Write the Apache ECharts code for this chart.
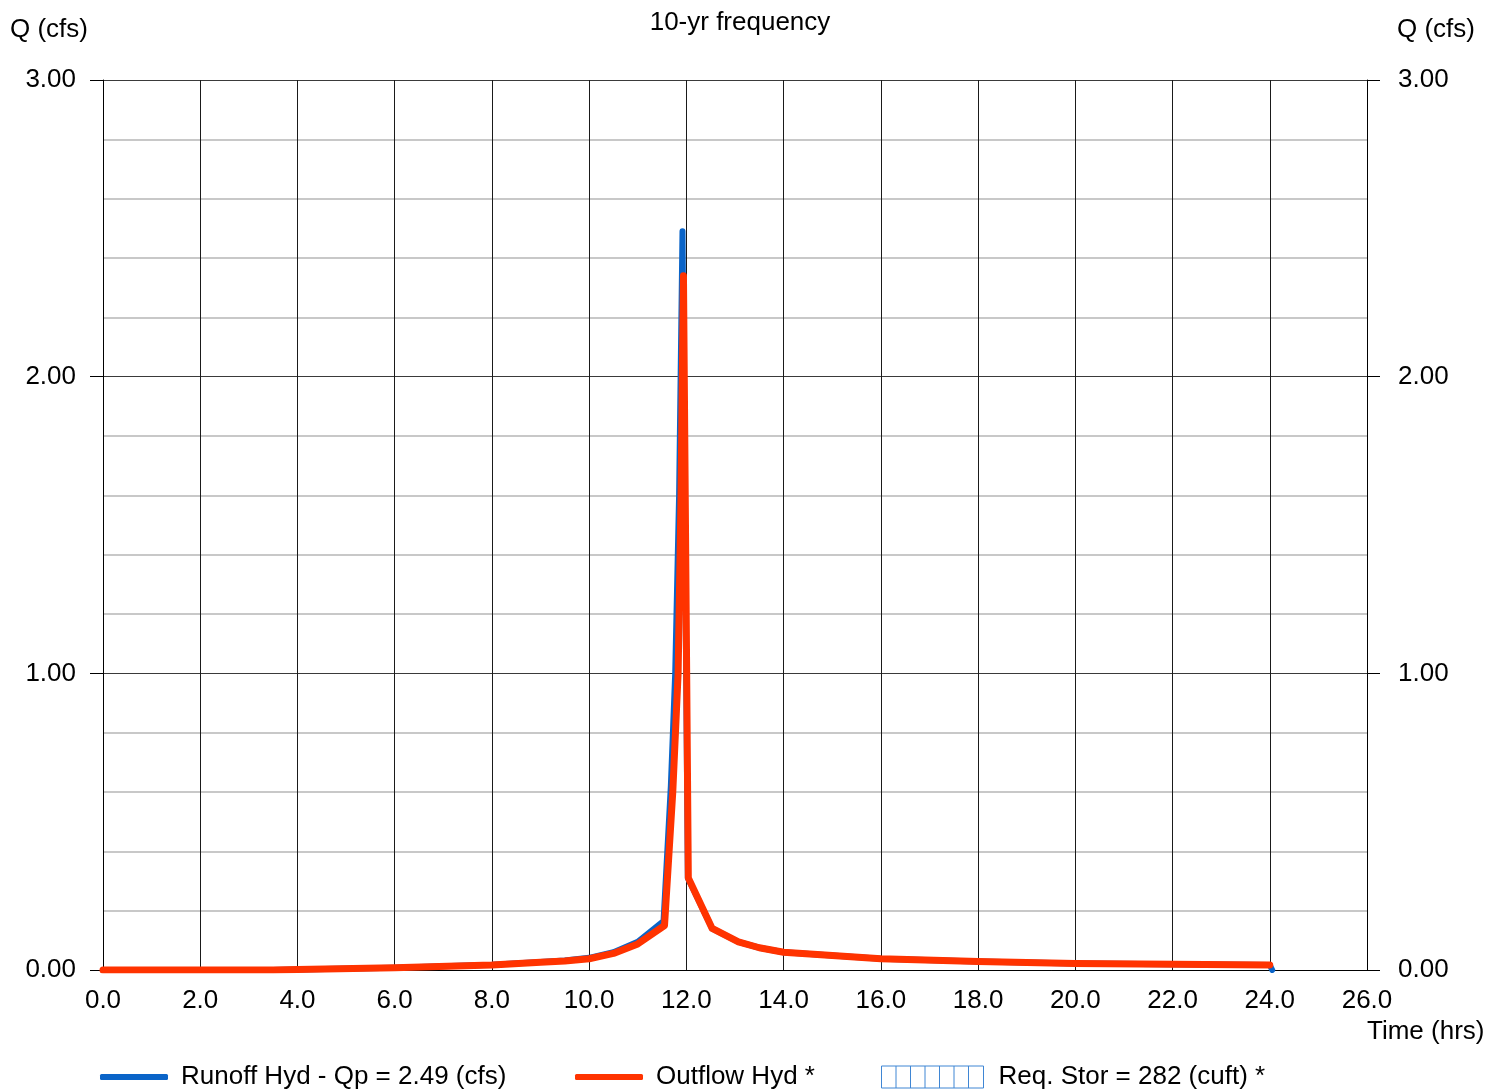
<!DOCTYPE html>
<html>
<head>
<meta charset="utf-8">
<script src="https://cdn.jsdelivr.net/npm/echarts@6/dist/echarts.min.js"></script>
<style>
  html, body { margin: 0; padding: 0; background: #fff; }
  #chart { width: 1504px; height: 1091px; }
</style>
</head>
<body>
<div id="chart"></div>
<script>
// hydrograph values (time in hrs, Q in cfs)
var runoffTime = [0.0, 3.5, 4.0, 6.0, 8.0, 9.0, 9.5, 10.0, 10.5, 11.0, 11.53, 11.68, 11.77, 11.85, 11.92, 12.03, 12.53, 13.07, 13.5, 14.0, 16.0, 18.0, 20.0, 22.0, 24.0, 24.05];
var runoffQ    = [0.0, 0.0, 0.002, 0.008, 0.018, 0.027, 0.032, 0.041, 0.060, 0.095, 0.165, 0.62, 1.0, 1.6, 2.49, 0.31, 0.14, 0.095, 0.075, 0.060, 0.038, 0.029, 0.022, 0.019, 0.017, 0.0];

var outflowTime = [0.0, 3.5, 4.0, 6.0, 8.0, 9.0, 9.5, 10.0, 10.5, 11.0, 11.55, 11.72, 11.83, 11.89, 11.94, 12.04, 12.53, 13.07, 13.5, 14.0, 16.0, 18.0, 20.0, 22.0, 24.0];
var outflowQ    = [0.0, 0.0, 0.002, 0.008, 0.017, 0.026, 0.030, 0.038, 0.056, 0.088, 0.150, 0.60, 1.0, 1.6, 2.34, 0.31, 0.14, 0.095, 0.075, 0.060, 0.038, 0.029, 0.022, 0.019, 0.017];

var seriesNames = ['Runoff Hyd - Qp = 2.49 (cfs)', 'Outflow Hyd *', 'Req. Stor = 282 (cuft) *'];

function pairs(t, q) {
    var out = [];
    for (var i = 0; i < t.length; i++) {
        out.push([t[i], q[i]]);
    }
    return out;
}

var FONT = 'Liberation Sans, Arial, sans-serif';
var FS = 26;
var storIcon = 'path://M0,0L102,0L102,22L0,22Z' +
    'M14.5,0L14.5,22M29,0L29,22M43.5,0L43.5,22M58,0L58,22M72.5,0L72.5,22M87,0L87,22';

var yAxisBase = {
    type: 'value',
    min: 0,
    max: 3,
    interval: 1,
    axisLine: { show: true, lineStyle: { color: '#000', width: 1 } },
    axisTick: { show: true, length: 13, lineStyle: { color: '#000' } },
    axisLabel: {
        color: '#000', fontSize: FS, fontFamily: FONT,
        formatter: function (v) { return v.toFixed(2); }
    },
    splitLine: { show: true, lineStyle: { color: '#3a3a3a', width: 1 } },
    minorTick: { show: false, splitNumber: 5 },
    minorSplitLine: { show: true, lineStyle: { color: '#c8c8c8', width: 2 } }
};

var legendText = { color: '#000', fontSize: FS, fontFamily: FONT, padding: [0, 0, 0, 8] };

var myChart = echarts.init(document.getElementById('chart'));
var option = {
    animation: false,
    backgroundColor: '#fff',
    title: {
        text: '10-yr frequency',
        left: 735,
        textAlign: 'center',
        top: 5,
        textStyle: { color: '#000', fontSize: FS, fontWeight: 'normal', fontFamily: FONT }
    },
    grid: { left: 103, right: 137, top: 80, bottom: 121, containLabel: false },
    xAxis: {
        type: 'value',
        min: 0,
        max: 26,
        interval: 2,
        axisLine: { show: true, onZero: false, lineStyle: { color: '#000', width: 1 } },
        axisTick: { show: false },
        axisLabel: {
            color: '#000', fontSize: FS, fontFamily: FONT, margin: 18,
            formatter: function (v) { return v.toFixed(1); }
        },
        splitLine: { show: true, lineStyle: { color: '#1a1a1a', width: 1 } }
    },
    yAxis: [
        echarts.util.merge({ position: 'left', axisLabel: { margin: 27 } }, yAxisBase, false),
        echarts.util.merge({ position: 'right', axisLabel: { margin: 31 },
            splitLine: { show: false }, minorSplitLine: { show: false } }, yAxisBase, false)
    ],
    legend: [
        {
            left: 100, top: 1064, padding: 0,
            data: [{ name: seriesNames[0], icon: 'roundRect' }],
            itemWidth: 68, itemHeight: 6,
            textStyle: legendText
        },
        {
            left: 575, top: 1064, padding: 0,
            data: [{ name: seriesNames[1], icon: 'roundRect' }],
            itemWidth: 68, itemHeight: 6,
            textStyle: legendText
        },
        {
            left: 881, top: 1064, padding: 0,
            data: [{
                name: seriesNames[2], icon: storIcon,
                itemStyle: { color: '#ffffff', borderColor: '#3f86d4', borderWidth: 1 }
            }],
            itemWidth: 102, itemHeight: 22,
            textStyle: { color: '#000', fontSize: FS, fontFamily: FONT, padding: [0, 0, 0, 10] }
        }
    ],
    graphic: [
        { type: 'text', left: 10, top: 17, style: { text: 'Q (cfs)', fill: '#000', font: FS + 'px ' + FONT } },
        { type: 'text', left: 1397, top: 17, style: { text: 'Q (cfs)', fill: '#000', font: FS + 'px ' + FONT } },
        { type: 'text', left: 1367, top: 1019, style: { text: 'Time (hrs)', fill: '#000', font: FS + 'px ' + FONT } }
    ],
    series: [
        {
            name: seriesNames[0],
            type: 'line',
            yAxisIndex: 0,
            showSymbol: false,
            color: '#0a64c8',
            lineStyle: { width: 6, color: '#0a64c8', cap: 'round', join: 'round' },
            data: pairs(runoffTime, runoffQ),
            z: 3
        },
        {
            name: seriesNames[1],
            type: 'line',
            yAxisIndex: 0,
            showSymbol: false,
            color: '#ff3300',
            lineStyle: { width: 7, color: '#ff3300', cap: 'round', join: 'round' },
            data: pairs(outflowTime, outflowQ),
            z: 4
        },
        {
            name: seriesNames[2],
            type: 'line',
            yAxisIndex: 0,
            showSymbol: false,
            color: '#3f86d4',
            data: []
        }
    ]
};
myChart.setOption(option);
</script>
</body>
</html>
